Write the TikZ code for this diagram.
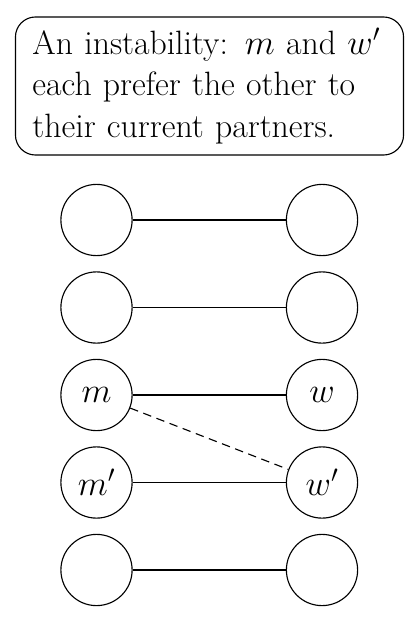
\documentclass[tikz,border=0pt]{standalone}
\usepackage{amsthm,amssymb,mathtools}
\usepackage{tikz}
\usetikzlibrary{shapes,arrows,positioning,calc}

\tikzset{
  person/.style={draw, circle, line width=0.8pt, minimum size=1.78cm, inner sep=0pt, font=\fontsize{24}{28}\selectfont},
  note/.style={draw, rounded corners=0.5cm, line width=0.8pt, minimum width=9.7cm, minimum height=3.45cm,
    text width=8.85cm, inner sep=0pt, align=left, font=\fontsize{24}{29.5}\selectfont}
}

\begin{document}
\begin{tikzpicture}[x=0.025cm, y=-0.025cm]
    \useasboundingbox (0,0) rectangle (417,625);
    \node [note] (msg) at (209.5,86) {An instability: $m$ and $w'$\\each prefer the other to\\their current partners.};
    \foreach \i/\l/\r in {0/{}/{}, 1/{}/{}, 2/{$m$}/{$w$}, 3/{$m'$}/{$w'$}, 4/{}/{}} {
      \node [person] (m\i) at (96.5,220+87.5*\i) {\l};
      \node [person] (w\i) at (322,220+87.5*\i) {\r};
      \draw [line width=0.8pt] (m\i) -- (w\i);
    }
    \draw [line width=0.8pt, dashed, dash pattern=on 6pt off 4pt] (m2) -- (w3);
  \end{tikzpicture}
\end{document}
